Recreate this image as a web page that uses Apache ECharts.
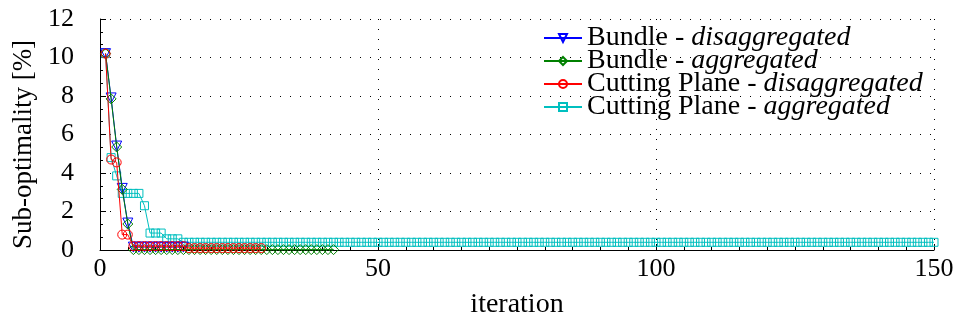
<!DOCTYPE html>
<html>
<head>
<meta charset="utf-8">
<script src="https://cdn.jsdelivr.net/npm/echarts@6/dist/echarts.min.js"></script>
<style>
html,body{margin:0;padding:0;background:#fff;}
#chart{width:963px;height:324px;}
</style>
</head>
<body>
<div id="chart"></div>
<script>
// ---- data (values per iteration, iteration = index + 1) ----
var seriesNames = [
  'Bundle - disaggregated',
  'Bundle - aggregated',
  'Cutting Plane - disaggregated',
  'Cutting Plane - aggregated'
];
var bundleDisagg = [10.2, 7.9, 5.4, 3.2, 1.4,
  0.15, 0.15, 0.15, 0.15, 0.15, 0.15, 0.15, 0.15, 0.15, 0.15];
var bundleAgg = [10.2, 7.85, 5.35, 3.15, 1.35,
  0.02, 0.02, 0.02, 0.02, 0.02, 0.02, 0.02, 0.02, 0.02, 0.02,
  0.02, 0.02, 0.02, 0.02, 0.02, 0.02, 0.02, 0.02, 0.02, 0.02,
  0.02, 0.02, 0.02, 0.02, 0.02, 0.02, 0.02, 0.02, 0.02, 0.02,
  0.02, 0.02, 0.02, 0.02, 0.02, 0.02, 0.02];
var cpDisagg = [10.2, 4.7, 4.55, 0.8, 0.8,
  0.2, 0.2, 0.2, 0.2, 0.2, 0.2, 0.2, 0.2, 0.2, 0.2,
  0.1, 0.1, 0.1, 0.1, 0.1, 0.1, 0.1, 0.1, 0.1, 0.1, 0.1, 0.1, 0.1, 0.1];
var cpAgg = [10.2, 4.8, 3.85, 2.94, 2.94, 2.94, 2.94, 2.3, 0.88, 0.88, 0.88, 0.58, 0.58, 0.58,
  0.4, 0.4, 0.4, 0.4, 0.4, 0.4, 0.4, 0.4, 0.4, 0.4, 0.4, 0.4, 0.4, 0.4, 0.4, 0.4, 0.4, 0.4, 0.4, 0.4,
  0.4, 0.4, 0.4, 0.4, 0.4, 0.4, 0.4, 0.4, 0.4, 0.4, 0.4, 0.4, 0.4, 0.4, 0.4, 0.4, 0.4, 0.4, 0.4, 0.4,
  0.4, 0.4, 0.4, 0.4, 0.4, 0.4, 0.4, 0.4, 0.4, 0.4, 0.4, 0.4, 0.4, 0.4, 0.4, 0.4, 0.4, 0.4, 0.4, 0.4,
  0.4, 0.4, 0.4, 0.4, 0.4, 0.4, 0.4, 0.4, 0.4, 0.4, 0.4, 0.4, 0.4, 0.4, 0.4, 0.4, 0.4, 0.4, 0.4, 0.4,
  0.4, 0.4, 0.4, 0.4, 0.4, 0.4, 0.4, 0.4, 0.4, 0.4, 0.4, 0.4, 0.4, 0.4, 0.4, 0.4, 0.4, 0.4, 0.4, 0.4,
  0.4, 0.4, 0.4, 0.4, 0.4, 0.4, 0.4, 0.4, 0.4, 0.4, 0.4, 0.4, 0.4, 0.4, 0.4, 0.4, 0.4, 0.4, 0.4, 0.4,
  0.4, 0.4, 0.4, 0.4, 0.4, 0.4, 0.4, 0.4, 0.4, 0.4, 0.4, 0.4, 0.4, 0.4, 0.4, 0.4];
var xTicks = [0, 50, 100, 150];
var yTicks = [0, 2, 4, 6, 8, 10, 12];

// ---- styling ----
var FONT = '"Liberation Serif", "DejaVu Serif", serif';
var colors = ['#0000ff', '#008000', '#ff0000', '#00bfbf'];
var symbols = ['triangle', 'diamond', 'circle', 'rect'];
var symbolRot = [180, 0, 0, 0];
var symbolSizes = [10, 10, 9, 8];
var allData = [bundleDisagg, bundleAgg, cpDisagg, cpAgg];
var zOrder = [3, 4, 5, 2];

function toPairs(arr) {
  return arr.map(function (v, i) { return [i + 1, v]; });
}

var series = allData.map(function (arr, k) {
  return {
    name: seriesNames[k],
    type: 'line',
    data: toPairs(arr),
    symbol: symbols[k],
    symbolRotate: symbolRot[k],
    symbolSize: symbolSizes[k],
    showAllSymbol: true,
    color: colors[k],
    lineStyle: { color: colors[k], width: 1 },
    itemStyle: { color: 'rgba(255,255,255,0)', borderColor: colors[k], borderWidth: 1 },
    emphasis: { disabled: true },
    animation: false,
    z: zOrder[k]
  };
});

var chart = echarts.init(document.getElementById('chart'), null, { renderer: 'canvas' });
chart.setOption({
  animation: false,
  backgroundColor: '#ffffff',
  grid: { left: 100, right: 29, top: 19, bottom: 72, containLabel: false },
  legend: {
    orient: 'vertical',
    left: 543,
    top: 24,
    itemWidth: 38,
    itemHeight: 10,
    itemGap: -5,
    padding: 0,
    data: seriesNames,
    textStyle: {
      fontFamily: FONT, fontSize: 28, color: '#000',
      rich: {
        n: { fontFamily: FONT, fontSize: 28, color: '#000' },
        i: { fontFamily: FONT, fontSize: 28, fontStyle: 'italic', color: '#000' }
      }
    },
    formatter: function (name) {
      var p = name.split(' - ');
      return '{n|' + p[0] + ' - }{i|' + p[1] + '}';
    }
  },
  xAxis: {
    type: 'value',
    min: xTicks[0],
    max: xTicks[xTicks.length - 1],
    interval: 50,
    name: 'iteration',
    nameLocation: 'middle',
    nameGap: 41,
    nameTextStyle: { fontFamily: FONT, fontSize: 28, color: '#000' },
    axisLine: { onZero: false, lineStyle: { color: '#000', width: 1 } },
    axisTick: { inside: true, length: 6, lineStyle: { color: '#000' } },
    minorTick: { show: true, splitNumber: 10, length: 3, lineStyle: { color: '#000' } },
    axisLabel: {
      fontFamily: FONT, fontSize: 26, color: '#000', margin: 6,
      formatter: function (v) { return xTicks.indexOf(v) >= 0 ? String(v) : ''; }
    },
    splitLine: { show: true, lineStyle: { color: '#000', width: 1, type: [1, 9] } }
  },
  yAxis: {
    type: 'value',
    min: yTicks[0],
    max: yTicks[yTicks.length - 1],
    interval: 2,
    name: 'Sub-optimality [%]',
    nameLocation: 'middle',
    nameGap: 56,
    nameTextStyle: { fontFamily: FONT, fontSize: 27, color: '#000', padding: [0, 20, 0, 0] },
    axisLine: { show: true, lineStyle: { color: '#000', width: 1 } },
    axisTick: { show: true, inside: true, length: 6, lineStyle: { color: '#000' } },
    minorTick: { show: true, splitNumber: 3, length: 3, lineStyle: { color: '#000' } },
    axisLabel: {
      fontFamily: FONT, fontSize: 26, color: '#000', margin: 26,
      formatter: function (v) { return yTicks.indexOf(v) >= 0 ? String(v) : ''; }
    },
    splitLine: { show: true, lineStyle: { color: '#000', width: 1, type: [1, 9] } }
  },
  series: series
});
</script>
</body>
</html>
